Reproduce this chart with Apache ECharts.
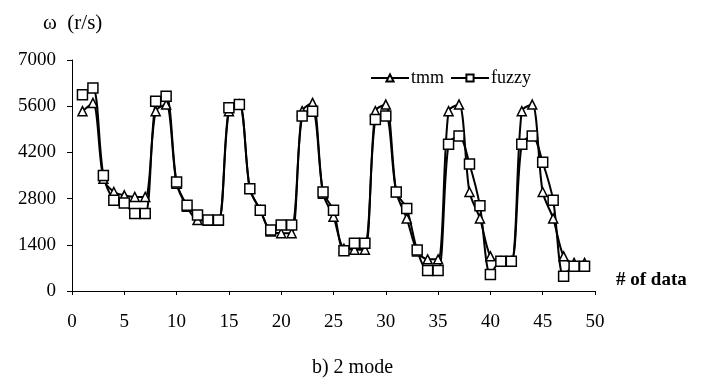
<!DOCTYPE html>
<html>
<head>
<meta charset="utf-8">
<script src="https://cdn.jsdelivr.net/npm/echarts@6/dist/echarts.min.js"></script>
<style>
  html, body { margin: 0; padding: 0; background: #fff; }
  #chart { width: 705px; height: 385px; }
</style>
</head>
<body>
<div id="chart"></div>
<script>
// sample number 1..49
const dataIndex = [1, 2, 3, 4, 5, 6, 7, 8, 9, 10, 11, 12, 13, 14, 15, 16, 17, 18, 19, 20,
  21, 22, 23, 24, 25, 26, 27, 28, 29, 30, 31, 32, 33, 34, 35, 36, 37, 38, 39, 40,
  41, 42, 43, 44, 45, 46, 47, 48, 49];

const tmmValues = [5450, 5700, 3400, 3000, 2900, 2850, 2850, 5450, 5650, 3250,
  2550, 2150, 2130, 2130, 5450, 5650, 3100, 2450, 1800, 1750,
  1750, 5450, 5700, 2950, 2250, 1280, 1250, 1250, 5450, 5650,
  3000, 2200, 1200, 960, 960, 5450, 5650, 3000, 2200, 1050,
  900, 900, 5450, 5650, 3000, 2200, 1050, 850, 850];

const fuzzyValues = [5950, 6150, 3500, 2750, 2670, 2350, 2350, 5750, 5900, 3300,
  2600, 2300, 2150, 2150, 5550, 5650, 3100, 2450, 1850, 2000,
  2000, 5300, 5450, 3000, 2450, 1220, 1450, 1450, 5200, 5300,
  3000, 2500, 1240, 620, 620, 4450, 4700, 3850, 2580, 500,
  900, 900, 4450, 4700, 3900, 2750, 450, 750, 750];

const font = '"Liberation Serif", "Times New Roman", serif';

function pairs(xs, ys) {
  return xs.map((x, i) => [x, ys[i]]);
}

const myChart = echarts.init(document.getElementById('chart'));
const option = {
  animation: false,
  backgroundColor: '#fff',
  textStyle: { fontFamily: font, color: '#000' },
  title: [
    {
      text: 'ω  (r/s)',
      left: 38,
      top: 8,
      textStyle: { fontFamily: font, fontSize: 21, fontWeight: 'normal', color: '#000' },
    },
    {
      text: '# of data',
      left: 611,
      top: 266,
      textStyle: { fontFamily: font, fontSize: 19, fontWeight: 'bold', color: '#000' },
    },
    {
      text: 'b) 2 mode',
      left: 'center',
      top: 353,
      textStyle: { fontFamily: font, fontSize: 20, fontWeight: 'normal', color: '#000' },
    },
  ],
  legend: {
    left: 365,
    top: 64,
    itemWidth: 38,
    itemHeight: 9,
    itemGap: 6,
    textStyle: { fontFamily: font, fontSize: 18, color: '#000', padding: [0, 0, 0, -3] },
    data: ['tmm', 'fuzzy'],
  },
  grid: {
    left: 72,
    right: 110,
    top: 60,
    bottom: 94,
  },
  xAxis: {
    type: 'value',
    min: 0,
    max: 50,
    interval: 5,
    axisLine: { lineStyle: { color: '#000', width: 1 } },
    axisTick: { show: true, length: 4, lineStyle: { color: '#000' } },
    axisLabel: { fontFamily: font, fontSize: 19, color: '#000', margin: 22 },
    splitLine: { show: false },
  },
  yAxis: {
    type: 'value',
    min: 0,
    max: 7000,
    interval: 1400,
    axisLine: { show: true, lineStyle: { color: '#000', width: 1 } },
    axisTick: { show: true, length: 5, lineStyle: { color: '#000' } },
    axisLabel: {
      fontFamily: font, fontSize: 19, color: '#000', margin: 16,
      formatter: (v) => String(v),
    },
    splitLine: { show: false },
  },
  series: [
    {
      name: 'tmm',
      type: 'line',
      smooth: 0.3,
      data: pairs(dataIndex, tmmValues),
      symbol: 'triangle',
      symbolSize: 9,
      lineStyle: { color: '#000', width: 2 },
      itemStyle: { color: '#fff', borderColor: '#000', borderWidth: 1.5 },
    },
    {
      name: 'fuzzy',
      type: 'line',
      smooth: 0.3,
      data: pairs(dataIndex, fuzzyValues),
      symbol: 'rect',
      symbolSize: 10,
      lineStyle: { color: '#000', width: 2 },
      itemStyle: { color: '#fff', borderColor: '#000', borderWidth: 1.5 },
    },
  ],
};

option && myChart.setOption(option);
</script>
</body>
</html>
